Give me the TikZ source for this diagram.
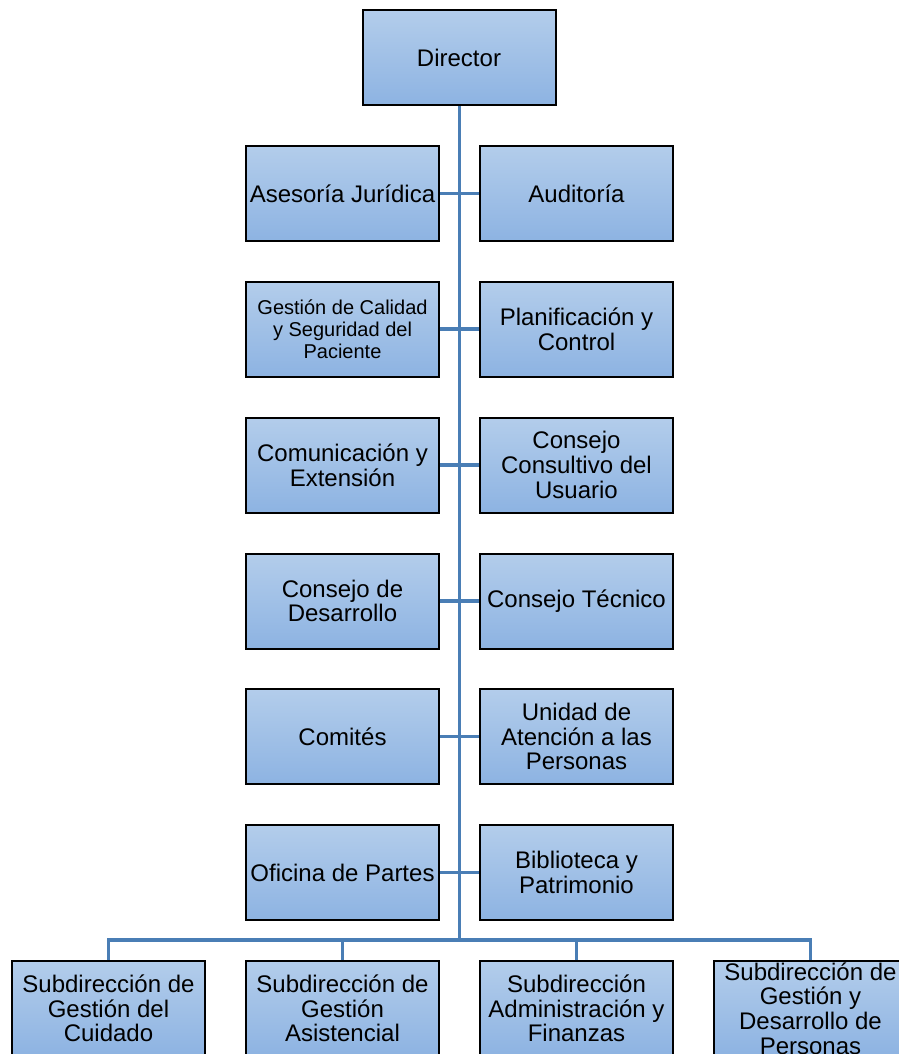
\documentclass[tikz,border=0pt]{standalone}
\usepackage{fontspec}
\setmainfont{Liberation Sans}
\begin{document}
\begin{tikzpicture}[x=0.75pt,y=-0.75pt,
  unit/.style={draw=black, line width=1.5pt, top color=boxtop, bottom color=boxbot,
    minimum width=144.75pt, minimum height=71.25pt, inner sep=1pt, align=center,
    font=\fontsize{18}{18.5}\selectfont},
  smalltext/.style={font=\fontsize{15}{16.5}\selectfont},
  link/.style={draw=linkblue, line width=2.4pt}]
\definecolor{boxtop}{HTML}{B3CDEB}
\definecolor{boxbot}{HTML}{8DB3E2}
\definecolor{linkblue}{HTML}{4A7EB5}
\useasboundingbox (0,0) rectangle (899,1054);

% trunk and bus positions
\coordinate (bus) at (459.5,940);
\coordinate (top) at (459.5,105);

% top
\node[unit] (dir) at (459,57.5) {Director};

% staff units, two columns
\node[unit] (l1) at (342.5,193.5) {Asesoría Jurídica};
\node[unit] (r1) at (576.5,193.5) {Auditoría};
\node[unit,smalltext] (l2) at (342.5,329) {Gestión de Calidad\\y Seguridad del\\Paciente};
\node[unit] (r2) at (576.5,329) {Planificación y\\Control};
\node[unit] (l3) at (342.5,465) {Comunicación y\\Extensión};
\node[unit] (r3) at (576.5,465) {Consejo\\Consultivo del\\Usuario};
\node[unit] (l4) at (342.5,601) {Consejo de\\Desarrollo};
\node[unit] (r4) at (576.5,601) {Consejo Técnico};
\node[unit] (l5) at (342.5,736.5) {Comités};
\node[unit] (r5) at (576.5,736.5) {Unidad de\\Atención a las\\Personas};
\node[unit] (l6) at (342.5,872.5) {Oficina de Partes};
\node[unit] (r6) at (576.5,872.5) {Biblioteca y\\Patrimonio};

% sub-directorates
\node[unit] (b1) at (108.5,1008.5) {Subdirección de\\Gestión del\\Cuidado};
\node[unit] (b2) at (342.5,1008.5) {Subdirección de\\Gestión\\Asistencial};
\node[unit] (b3) at (576.5,1008.5) {Subdirección\\Administración y\\Finanzas};
\node[unit] (b4) at (810.5,1008.5) {Subdirección de\\Gestión y\\Desarrollo de\\Personas};

% connectors
\draw[link] (dir.south -| top) -- (bus);
\foreach \i in {1,...,6}{
  \draw[link] (l\i.east) -- (r\i.west);
}
\draw[link] (b1.north) |- (bus) -| (b4.north);
\draw[link] (b2.north) -- (b2.north |- bus);
\draw[link] (b3.north) -- (b3.north |- bus);
\end{tikzpicture}
\end{document}
